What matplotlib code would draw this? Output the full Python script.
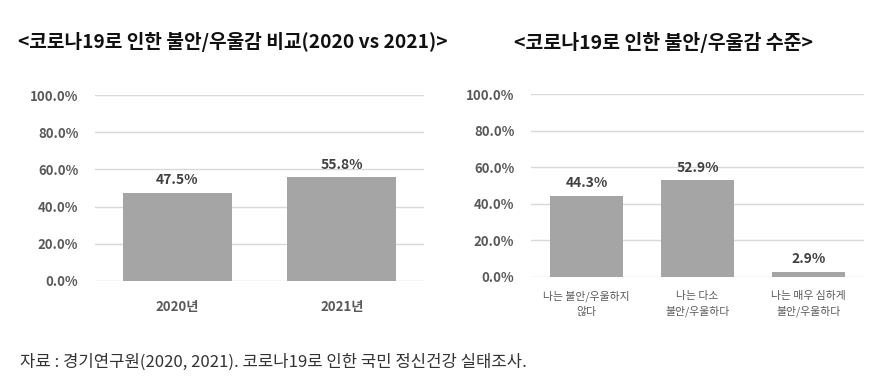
import matplotlib
matplotlib.use("Agg")
import matplotlib.pyplot as plt
from matplotlib.ticker import FuncFormatter

plt.rcParams['font.family'] = ['Noto Sans CJK KR', 'DejaVu Sans']

title_left = "<코로나19로 인한 불안/우울감 비교(2020 vs 2021)>"
title_right = "<코로나19로 인한 불안/우울감 수준>"
source = "자료 : 경기연구원(2020, 2021). 코로나19로 인한 국민 정신건강 실태조사."

years = ["2020년", "2021년"]
year_values = [47.5, 55.8]

levels = ["나는 불안/우울하지\n않다", "나는 다소\n불안/우울하다", "나는 매우 심하게\n불안/우울하다"]
level_values = [44.3, 52.9, 2.9]

yticks = [0, 20, 40, 60, 80, 100]

W, H = 889, 389
fig = plt.figure(figsize=(W / 100, H / 100), dpi=100)

bar_color = "#A5A5A5"
grid_color = "#D9D9D9"
tick_color = "#595959"
label_color = "#404040"


def ax_rect(x0, x1, ytop, ybot):
    return [x0 / W, 1 - ybot / H, (x1 - x0) / W, (ybot - ytop) / H]


def style(ax, cats, vals, xfs, label_pad, ls):
    x = list(range(len(cats)))
    ax.bar(x, vals, width=0.66, color=bar_color, zorder=3)
    ax.set_ylim(0, 100)
    ax.set_xlim(-0.5, len(cats) - 0.5)
    ax.set_yticks(yticks)
    ax.yaxis.set_major_formatter(FuncFormatter(lambda v, p: f"{v:.1f}%"))
    ax.grid(axis="y", color=grid_color, linewidth=1, zorder=0)
    for s in ax.spines.values():
        s.set_visible(False)
    ax.tick_params(axis="both", length=0)
    ax.tick_params(axis="y", pad=12, labelsize=9.5, labelcolor=tick_color)
    for t in ax.get_yticklabels():
        t.set_fontweight("bold")
    ax.set_xticks(x)
    ax.set_xticklabels(cats, fontsize=xfs, color=tick_color, linespacing=ls)
    ax.tick_params(axis="x", pad=label_pad)
    for xi, v in zip(x, vals):
        ax.text(xi, v + 3, f"{v:.1f}%", ha="center", va="bottom", fontsize=10,
                fontweight="bold", color=label_color)


ax1 = fig.add_axes(ax_rect(95, 424, 95, 281))
style(ax1, years, year_values, 9.5, 14, 1.2)
for t in ax1.get_xticklabels():
    t.set_fontweight("bold")

ax2 = fig.add_axes(ax_rect(531, 864, 94, 277))
style(ax2, levels, level_values, 7.8, 10, 1.55)

fig.text(18 / W, 1 - 42 / H, title_left, ha="left", va="center", fontsize=13.8,
         fontweight="bold", color="#111111")
fig.text(664 / W, 1 - 42 / H, title_right, ha="center", va="center", fontsize=14,
         fontweight="bold", color="#111111")
fig.text(20 / W, 1 - 362 / H, source, ha="left", va="center", fontsize=12,
         color="#333333")

fig.savefig("out.png", dpi=100, facecolor="white")
